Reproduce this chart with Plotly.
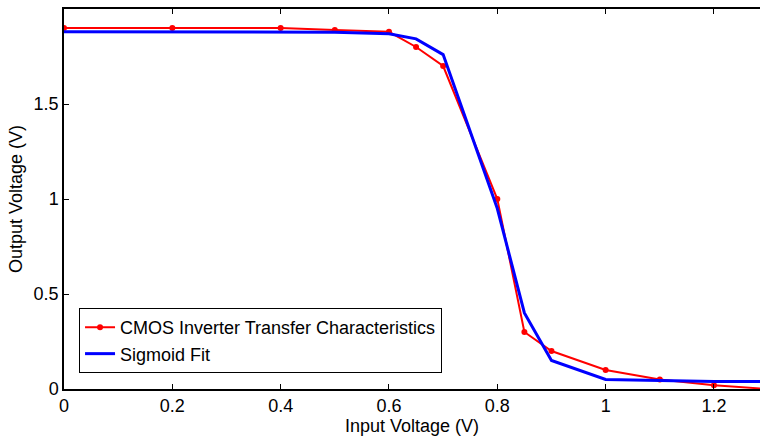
import plotly.graph_objects as go

vin = [0, 0.2, 0.4, 0.5, 0.6, 0.65, 0.7, 0.8, 0.85, 0.9, 1.0, 1.1, 1.2, 1.3]
vout_cmos = [1.9, 1.9, 1.9, 1.89, 1.88, 1.8, 1.7, 1.0, 0.3, 0.2, 0.1, 0.05, 0.02, 0.0]
vout_fit = [1.88, 1.88, 1.88, 1.878, 1.87, 1.843, 1.76, 0.95, 0.4, 0.15, 0.05, 0.045, 0.04, 0.04]

x_ticks = [0, 0.2, 0.4, 0.6, 0.8, 1.0, 1.2]
x_labels = ["0", "0.2", "0.4", "0.6", "0.8", "1", "1.2"]
y_ticks = [0, 0.5, 1, 1.5, 2]
y_labels = ["0", "0.5", "1", "1.5", "2"]

font = "Liberation Sans, Arial, sans-serif"
fs = 18

fig = go.Figure()
fig.add_trace(go.Scatter(
    x=vin, y=vout_cmos, mode="lines+markers",
    name="CMOS Inverter Transfer Characteristics",
    line=dict(color="#ff0000", width=2),
    marker=dict(color="#ff0000", size=6),
))
fig.add_trace(go.Scatter(
    x=vin, y=vout_fit, mode="lines",
    name="Sigmoid Fit",
    line=dict(color="#0000ff", width=3),
))

fig.update_layout(
    width=760, height=436,
    margin=dict(l=64, r=0, t=9, b=47),
    paper_bgcolor="white", plot_bgcolor="white",
    font=dict(family=font, size=fs, color="black"),
    showlegend=True,
    legend=dict(
        x=0.0216, y=0.042, xanchor="left", yanchor="bottom",
        bgcolor="white", bordercolor="black", borderwidth=1,
        font=dict(family=font, size=fs, color="black"),
        tracegroupgap=0, itemwidth=30,
    ),
    xaxis=dict(
        range=[0, 1.285], tickvals=x_ticks, ticktext=x_labels,
        showline=True, linecolor="black", linewidth=1.5, mirror="ticks",
        ticks="inside", ticklen=5, tickcolor="black",
        showgrid=False, zeroline=False,
        title=dict(text="Input Voltage (V)", standoff=1, font=dict(family=font, size=fs)),
        tickfont=dict(family=font, size=fs),
    ),
    yaxis=dict(
        range=[0, 2], tickvals=y_ticks, ticktext=y_labels,
        showline=True, linecolor="black", linewidth=1.5, mirror=False,
        ticks="inside", ticklen=5, tickcolor="black",
        showgrid=False, zeroline=False,
        title=dict(text="Output Voltage (V)", standoff=6, font=dict(family=font, size=fs)),
        tickfont=dict(family=font, size=fs),
    ),
)

fig.write_html("out.html")
